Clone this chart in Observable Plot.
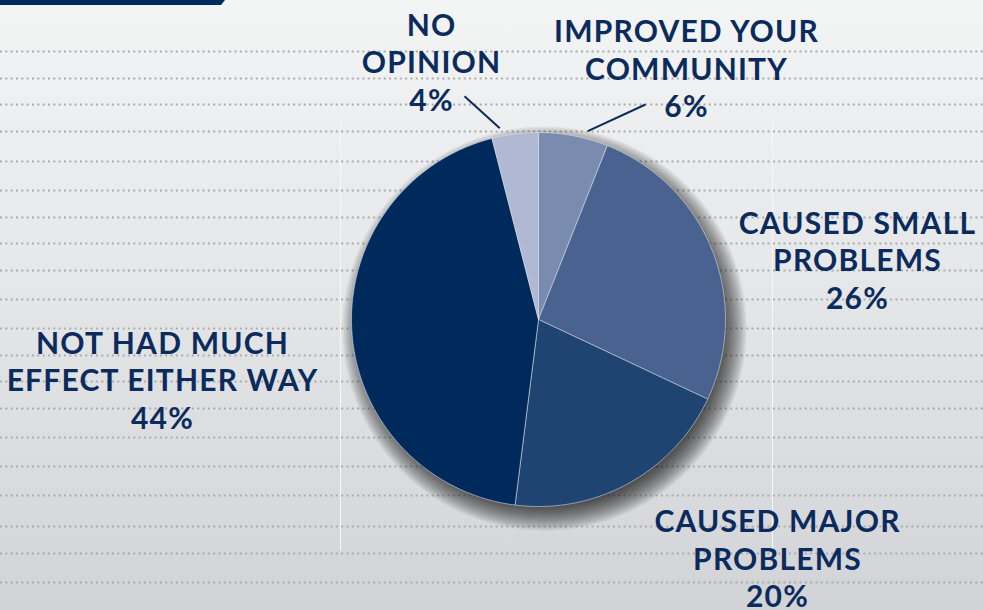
<!DOCTYPE html>
<html><head><meta charset="utf-8">
<script src="https://cdn.jsdelivr.net/npm/d3@7"></script>
<script src="https://cdn.jsdelivr.net/npm/@observablehq/plot@0.6"></script>
<style>
html,body{margin:0;padding:0;width:983px;height:610px;overflow:hidden;background:#e4e6e8;}
#wrap{position:relative;width:983px;height:610px;}
#wrap svg{display:block;}
#bar{position:absolute;left:0;top:0;width:225px;height:5px;background:#002a5c;clip-path:polygon(0 0,225px 0,221px 5px,0 5px);z-index:2;}
</style></head><body><div id="wrap"><div id="bar"></div></div>
<script>
// ---- data ----
const categories = ["IMPROVED YOUR COMMUNITY", "CAUSED SMALL PROBLEMS", "CAUSED MAJOR PROBLEMS", "NOT HAD MUCH EFFECT EITHER WAY", "NO OPINION"];
const labelLines = [["IMPROVED YOUR", "COMMUNITY"], ["CAUSED SMALL", "PROBLEMS"], ["CAUSED MAJOR", "PROBLEMS"], ["NOT HAD MUCH", "EFFECT EITHER WAY"], ["NO", "OPINION"]];
const percents = [6, 26, 20, 44, 4];
const sliceColors = ["#7a8bb0", "#4a6290", "#1f4472", "#002a5c", "#b0b8d4"];

// ---- layout ----
const W = 983, H = 610;
const CX = 538, CY = 319, R = 187;
const gridY = [51, 78, 104, 131, 161, 190, 217, 243, 270, 299, 328, 355, 381, 408, 437, 466, 495, 526, 553, 582];
const labelAnchor = [[686, 116.7], [857, 308.3], [777, 606.7], [162, 428.3], [431, 110]];
const leaders = [
  {x1: 645, y1: 104, x2: 587.3, y2: 130.7},
  {x1: 464, y1: 95.7, x2: 499.3, y2: 127.7}
];
const NAVY = "#0b2b5d";

const table = categories.map((c, i) => ({key: c, value: percents[i]}));
const arcs = d3.pie().sort(null).value(d => d.value)(table);

const piePts = [];
arcs.forEach(a => {
  const k = a.data.key;
  piePts.push({key: k, x: CX, y: CY});
  const n = Math.max(2, Math.ceil((a.endAngle - a.startAngle) / (Math.PI / 360)));
  for (let j = 0; j <= n; j++) {
    const t = a.startAngle + (a.endAngle - a.startAngle) * j / n;
    piePts.push({key: k, x: CX + R * Math.sin(t), y: CY - R * Math.cos(t)});
  }
  piePts.push({key: k, x: CX, y: CY});
});

// soft drop shadow built from stacked translucent discs
const shadowRings = d3.range(16).map(i => ({x: CX + 6, y: CY + 9, r: R + 15 - i * 1.6}));

const labels = table.map((d, i) => ({
  text: labelLines[i].join("\n") + "\n" + d.value + "%",
  x: labelAnchor[i][0], y: labelAnchor[i][1]
}));

const sliceMarks = categories.map((c, i) =>
  Plot.line(piePts.filter(p => p.key === c), {x: "x", y: "y", fill: sliceColors[i], stroke: "#e3e8f0", strokeWidth: 0.7, strokeOpacity: 0.8})
);

const chart = Plot.plot({
  width: W, height: H,
  margin: 0,
  x: {domain: [0, W], range: [0, W], axis: null},
  y: {domain: [0, H], range: [0, H], axis: null},
  r: {type: "identity"},
  style: "background: linear-gradient(#f3f4f4 0%, #e6e7e9 45%, #d1d3d6 100%); font-family: Lato, 'Open Sans', sans-serif; overflow: visible; letter-spacing: 1.2px;",
  marks: [
    Plot.ruleY(gridY, {x1: 0, x2: W, stroke: "#a9abae", strokeWidth: 1.8, strokeDasharray: "2,3.33"}),
    Plot.ruleX([340, 772], {y1: 121, y2: 550, stroke: "#f5f6f7", strokeWidth: 1}),
    Plot.dot(shadowRings, {x: "x", y: "y", r: "r", fill: "#000", fillOpacity: 0.06, stroke: "none"}),
    ...sliceMarks,
    Plot.link(leaders, {x1: "x1", y1: "y1", x2: "x2", y2: "y2", stroke: NAVY, strokeWidth: 2}),
    Plot.text(labels, {x: "x", y: "y", text: "text", lineAnchor: "bottom", lineHeight: 1.25, fontSize: 30, fontWeight: "bold", fill: NAVY, textAnchor: "middle"})
  ]
});
document.getElementById("wrap").prepend(chart);
</script>
</body></html>
